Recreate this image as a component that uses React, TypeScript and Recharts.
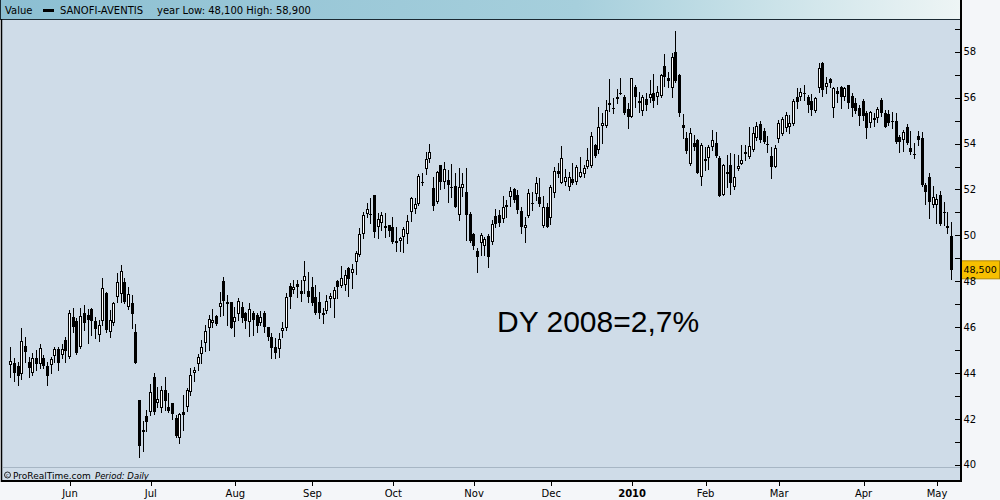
import React from "react";
import { ComposedChart, Bar, XAxis, YAxis, ReferenceLine } from "recharts";

// SANOFI-AVENTIS daily candles, 8 May 2009 .. 7 May 2010 (one entry per trading day)
const opens = [
  44.35, 44.46, 44.32, 43.95, 45.19, 44.5, 44.02, 44.65, 44.4, 44.65,
  44.32, 44.34, 44.73, 45.04, 44.79, 45.45, 44.72, 46.43, 46.27, 45.16,
  46.61, 46.55, 46.78, 46.27, 45.66, 46.25, 47.48, 45.81, 46.17, 47.3,
  47.44, 47.96, 46.87, 47.04, 45.78, 42.83, 41.48, 42.13, 42.29, 43.82,
  42.72, 42.47, 43.27, 42.54, 42.69, 42.03, 41.16, 42.29, 42.51, 43.2,
  44.02, 44.38, 44.82, 45.3, 45.98, 46.2, 46.49, 46.87, 48.02, 47.1,
  47.1, 46.21, 46.56, 46.87, 46.64, 46.24, 46.64, 46.53, 46.2, 46.61,
  46.03, 45.59, 45.12, 45.04, 45.84, 45.98, 47.8, 47.62, 47.88, 47.56,
  48.03, 47.56, 47.74, 47.3, 47.08, 46.52, 46.72, 47.21, 47.21, 48.01,
  47.81, 47.84, 48.59, 48.35, 48.85, 49.14, 50.04, 50.92, 50.95, 51.76,
  50.38, 50.52, 50.31, 50.45, 50.38, 49.75, 49.77, 49.91, 50.04, 51.03,
  51.15, 51.37, 52.34, 52.88, 53.33, 52.05, 51.47, 53.05, 52.34, 52.41,
  52.1, 52.15, 50.89, 52.05, 51.87, 50.92, 50.06, 49.32, 49.68, 49.54,
  49.97, 49.72, 50.84, 50.89, 50.7, 51.32, 51.65, 52.02, 51.76, 51.06,
  50.31, 50.84, 51.43, 51.8, 51.68, 50.42, 51.25, 50.74, 51.83, 52.82,
  52.3, 52.34, 52.12, 52.44, 52.31, 52.56, 52.67, 52.96, 53.03, 53.94,
  53.74, 54.78, 54.78, 55.75, 55.54, 56.01, 56.22, 56.01, 55.49, 55.17,
  56.48, 55.86, 55.43, 55.92, 55.97, 56.18, 56.04, 56.08, 57.39, 56.85,
  56.4, 57.99, 56.98, 54.8, 54.22, 53.09, 54.03, 54.15, 52.55, 53.23,
  53.35, 53.86, 54.03, 53.35, 51.78, 52.77, 53.06, 52.09, 52.87, 53.13,
  53.6, 53.42, 53.71, 54.25, 54.83, 54.56, 53.97, 53.47, 52.99, 54.18,
  54.4, 54.66, 54.7, 54.85, 56.03, 56.04, 56.2, 56.04, 55.85, 55.42,
  56.4, 57.49, 56.48, 56.81, 55.56, 56.29, 56.45, 56.04, 56.55, 56.07,
  55.75, 55.56, 55.85, 55.32, 54.88, 55.01, 55.1, 55.9, 55.32, 55.29,
  55.0, 55.0, 54.3, 54.15, 54.73, 53.79, 53.55, 54.31, 54.23, 52.19,
  52.53, 51.32, 51.32, 51.76, 51.03, 50.3, 49.97,
];

const highs = [
  45.15, 44.65, 44.5, 45.96, 45.59, 44.72, 44.87, 45.01, 45.26, 44.8,
  44.5, 44.72, 45.16, 45.16, 45.26, 45.59, 46.75, 46.83, 46.39, 46.83,
  46.97, 46.8, 46.83, 46.46, 46.32, 48.13, 47.55, 46.75, 47.12, 48.35,
  48.71, 48.13, 47.77, 47.41, 46.13, 42.85, 41.9, 42.4, 43.53, 44.0,
  43.41, 43.44, 43.82, 43.12, 42.69, 42.18, 42.25, 43.05, 43.34, 44.21,
  44.28, 44.82, 45.45, 46.1, 46.53, 46.78, 46.52, 47.55, 48.2, 47.4,
  47.1, 46.9, 47.26, 47.09, 46.68, 47.04, 46.72, 46.61, 46.72, 46.72,
  46.03, 45.74, 45.52, 45.74, 46.24, 47.48, 47.94, 48.06, 48.06, 48.06,
  48.88, 48.42, 48.2, 47.84, 47.52, 46.82, 47.4, 47.48, 47.77, 48.06,
  48.67, 48.49, 48.61, 48.74, 49.33, 50.31, 51.03, 51.4, 51.61, 51.76,
  50.96, 51.03, 50.96, 50.45, 50.79, 50.35, 49.94, 50.35, 50.89, 51.68,
  51.61, 52.67, 52.7, 53.65, 53.98, 52.56, 52.82, 53.05, 53.18, 52.85,
  53.11, 52.7, 52.92, 52.7, 52.92, 51.0, 50.1, 49.44, 50.12, 49.94,
  50.06, 50.67, 51.13, 51.1, 51.71, 51.54, 52.09, 52.05, 51.98, 51.22,
  50.81, 52.02, 51.9, 52.53, 52.49, 51.71, 51.4, 52.2, 52.99, 53.14,
  53.89, 52.89, 52.77, 53.14, 53.07, 53.4, 53.07, 53.79, 54.52, 53.98,
  55.58, 55.31, 55.9, 56.8, 55.97, 56.36, 56.84, 56.11, 55.75, 56.84,
  56.55, 56.26, 56.11, 56.21, 56.76, 57.05, 56.5, 57.05, 57.9, 57.13,
  57.93, 58.9, 57.05, 55.28, 54.51, 54.66, 54.37, 54.18, 54.03, 53.86,
  53.93, 54.59, 54.51, 53.45, 53.13, 53.5, 53.57, 53.54, 53.5, 53.93,
  53.93, 54.7, 54.73, 54.95, 54.98, 54.66, 54.32, 53.86, 53.93, 55.02,
  55.17, 55.38, 55.24, 55.92, 56.4, 56.4, 56.55, 56.11, 56.14, 56.04,
  57.49, 57.57, 56.91, 56.84, 56.48, 56.48, 56.52, 56.48, 56.55, 56.19,
  56.0, 55.68, 55.94, 55.42, 55.42, 55.32, 55.6, 55.97, 55.46, 55.46,
  55.36, 55.32, 54.37, 54.59, 54.84, 54.55, 54.01, 54.55, 54.49, 52.27,
  52.7, 52.15, 51.79, 51.93, 51.47, 51.03, 50.6,
];

const lows = [
  43.85, 43.66, 43.5, 43.75, 44.5, 43.85, 43.92, 44.14, 44.21, 44.21,
  43.5, 43.99, 44.5, 44.14, 44.65, 44.5, 44.65, 45.81, 44.84, 45.08,
  45.88, 45.3, 45.66, 45.52, 45.4, 46.1, 45.81, 45.59, 46.1, 47.12,
  47.12, 47.04, 46.8, 45.96, 44.46, 40.35, 40.6, 41.5, 42.18, 42.22,
  42.54, 42.32, 42.4, 42.32, 42.0, 41.23, 40.94, 41.53, 42.37, 43.05,
  43.67, 44.14, 44.46, 44.98, 45.01, 46.03, 46.1, 46.5, 46.53, 46.1,
  45.95, 45.63, 46.32, 46.24, 45.95, 45.62, 45.66, 45.81, 46.1, 45.81,
  45.45, 44.68, 44.68, 44.72, 45.56, 45.88, 46.82, 47.48, 47.3, 47.16,
  47.48, 47.11, 46.97, 46.57, 46.39, 46.17, 46.63, 46.9, 46.46, 47.26,
  47.77, 47.62, 47.37, 47.7, 48.32, 49.1, 49.87, 50.81, 50.55, 49.94,
  49.87, 50.23, 49.94, 49.97, 49.65, 49.33, 49.33, 49.29, 49.65, 50.64,
  50.99, 51.32, 52.19, 52.67, 53.21, 51.1, 51.42, 52.02, 52.05, 51.47,
  51.69, 51.22, 50.67, 51.71, 49.8, 49.7, 49.4, 48.4, 49.14, 49.14,
  48.63, 49.62, 50.38, 50.41, 50.6, 50.78, 51.28, 51.47, 50.99, 50.09,
  49.73, 50.81, 51.1, 51.54, 51.3, 50.35, 50.38, 50.49, 51.68, 52.56,
  52.27, 52.19, 51.97, 52.24, 52.24, 52.53, 52.56, 52.92, 52.99, 53.43,
  53.6, 54.04, 54.73, 55.43, 55.34, 55.78, 56.16, 55.29, 54.66, 55.14,
  55.6, 55.38, 55.24, 55.46, 55.82, 55.57, 55.72, 56.04, 56.5, 56.47,
  56.04, 56.7, 55.2, 54.22, 53.6, 53.06, 53.74, 52.7, 52.19, 52.84,
  52.87, 53.71, 53.42, 51.71, 51.75, 52.12, 51.8, 52.04, 52.84, 53.1,
  53.28, 53.39, 53.68, 54.15, 54.08, 54.03, 53.64, 52.52, 52.96, 54.08,
  54.37, 54.56, 54.44, 54.8, 55.53, 55.9, 55.9, 55.39, 55.24, 55.36,
  56.26, 56.08, 56.19, 56.48, 55.17, 55.82, 55.56, 55.9, 55.56, 55.2,
  55.31, 54.81, 55.02, 54.26, 54.73, 54.78, 54.95, 55.21, 54.73, 54.81,
  54.66, 54.01, 53.62, 53.68, 53.98, 53.53, 53.38, 53.94, 52.15, 51.35,
  50.77, 51.25, 50.55, 50.45, 50.45, 50.12, 48.1,
];

const closes = [
  44.55, 44.02, 43.88, 45.39, 44.91, 44.24, 44.65, 44.4, 45.11, 44.32,
  43.89, 44.62, 45.07, 44.43, 45.04, 44.98, 46.61, 46.03, 44.87, 46.48,
  46.17, 46.3, 46.25, 45.93, 46.1, 47.7, 45.88, 46.32, 47.04, 47.96,
  48.45, 47.09, 47.44, 46.59, 44.46, 40.84, 41.52, 41.89, 43.17, 42.32,
  42.86, 43.27, 42.8, 42.37, 42.22, 41.28, 42.21, 42.18, 43.27, 43.92,
  44.14, 44.69, 45.13, 45.84, 46.35, 46.32, 46.13, 47.04, 47.16, 47.0,
  45.98, 46.46, 47.14, 46.39, 46.29, 46.78, 46.32, 46.07, 46.43, 46.03,
  45.59, 45.08, 44.89, 45.47, 45.95, 47.3, 47.33, 47.77, 47.77, 47.45,
  48.23, 47.33, 47.07, 46.6, 46.6, 46.63, 47.16, 47.36, 47.62, 47.77,
  48.13, 48.27, 48.08, 48.53, 49.22, 50.06, 50.89, 51.15, 50.92, 50.16,
  50.71, 50.89, 50.42, 50.19, 49.73, 49.76, 49.87, 50.28, 50.63, 51.61,
  51.37, 52.59, 52.32, 53.34, 53.62, 51.3, 52.75, 52.31, 52.88, 52.18,
  52.08, 51.25, 52.1, 52.24, 50.89, 49.77, 49.55, 49.07, 50.01, 49.83,
  49.07, 50.49, 50.49, 50.55, 51.22, 51.22, 51.93, 51.54, 51.1, 50.35,
  50.45, 51.83, 51.41, 52.27, 51.35, 51.25, 50.38, 52.12, 52.82, 52.67,
  53.36, 52.53, 52.53, 52.27, 52.99, 52.74, 52.92, 53.28, 54.33, 53.47,
  54.73, 54.88, 55.46, 55.68, 55.53, 55.94, 56.2, 55.31, 55.14, 56.84,
  56.04, 55.75, 56.01, 55.7, 56.15, 55.86, 56.23, 56.98, 56.91, 56.73,
  57.78, 56.73, 55.34, 54.69, 53.67, 54.48, 53.86, 52.73, 53.93, 53.32,
  53.86, 54.15, 53.45, 51.72, 53.06, 52.67, 52.26, 52.55, 53.03, 53.28,
  53.61, 53.9, 54.48, 54.77, 54.15, 54.08, 53.96, 52.96, 53.79, 54.88,
  55.05, 55.24, 54.88, 55.86, 55.82, 56.23, 56.19, 55.68, 55.46, 56.0,
  57.28, 56.33, 56.62, 56.62, 56.4, 56.17, 56.01, 56.4, 55.78, 55.56,
  55.42, 55.21, 55.21, 54.69, 55.36, 55.13, 55.5, 55.32, 54.73, 54.91,
  54.99, 54.05, 54.08, 54.49, 54.01, 53.65, 53.54, 54.14, 52.19, 51.9,
  51.47, 51.69, 51.57, 50.5, 50.96, 50.41, 48.5,
];

// trading-day index where each month begins
const monthLabels = ["Jun", "Jul", "Aug", "Sep", "Oct", "Nov", "Dec", "2010", "Feb", "Mar", "Apr", "May"];
const monthStarts = [16, 38, 61, 82, 104, 126, 147, 169, 189, 209, 232, 252];
const priceTicks = [40, 41, 42, 43, 44, 45, 46, 47, 48, 49, 50, 51, 52, 53, 54, 55, 56, 57, 58, 59];

const rows = opens.map((o, i) => ({
  i,
  open: o,
  high: highs[i],
  low: lows[i],
  close: closes[i],
}));
const lastClose = closes[closes.length - 1];

const UI_FONT = '"DejaVu Sans", Verdana, sans-serif';

function Candle(props: any) {
  const { x, y, width, height, payload } = props;
  if (!payload || height == null || isNaN(y)) return null;
  const { open, high, low, close } = payload;
  const span = high - low || 1;
  const yAt = (v: number) => y + ((high - v) / span) * height;
  const cx = Math.round(x + width / 2 - 0.5) + 0.5;
  const yH = Math.round(yAt(high));
  const yL = Math.round(yAt(low));
  const yO = Math.round(yAt(open));
  const yC = Math.round(yAt(close));
  let top = Math.min(yO, yC);
  let bot = Math.max(yO, yC);
  const up = close > open;

  if (up) {
    if (bot - top < 2) bot = top + 2;
    return (
      <g>
        <line x1={cx} x2={cx} y1={yH} y2={yL + 1} stroke="#000" strokeWidth={1} />
        <rect x={cx - 1} y={top + 0.5} width={2} height={bot - top - 1} fill="#fff" stroke="#000" strokeWidth={1} />
      </g>
    );
  }
  if (bot - top < 1) bot = top + 1;
  return (
    <g>
      <line x1={cx} x2={cx} y1={yH} y2={yL + 1} stroke="#000" strokeWidth={1} />
      <rect x={cx - 1.5} y={top} width={3} height={bot - top} fill="#000" />
    </g>
  );
}

function MonthTick({ x, y, payload }: any) {
  const label = monthLabels[monthStarts.indexOf(payload.value)];
  const px = Math.round(x) + 0.5;
  return (
    <g>
      <line x1={px} x2={px} y1={y + 1} y2={y + 5} stroke="#000" />
      <text
        x={x}
        y={y + 16}
        textAnchor="middle"
        fontSize={10}
        fontFamily={UI_FONT}
        fontWeight={label === "2010" ? "bold" : "normal"}
        fill="#000"
      >
        {label}
      </text>
    </g>
  );
}

function PriceTick({ x, y, payload }: any) {
  const py = Math.round(y) + 0.5;
  const v = payload.value;
  return (
    <g>
      <line x1={x - 6} x2={x} y1={py} y2={py} stroke="#000" />
      {v % 2 === 0 && (
        <text x={x + 2.5} y={y + 3.5} fontSize={10} fontFamily={UI_FONT} fill="#000">
          {v}
        </text>
      )}
    </g>
  );
}

function PriceFlag(props: any) {
  const vb = props.viewBox || {};
  const right = vb.x + vb.width;
  const cy = vb.y;
  return (
    <g>
      <rect x={right + 0.5} y={cy - 9} width={38} height={18} fill="#f7bf00" stroke="#b58a00" strokeWidth={1} />
      <text x={right + 2.5} y={cy + 3.5} fontSize={9.5} fontFamily={UI_FONT} fill="#000">
        {lastClose.toFixed(3).replace(".", ",")}
      </text>
    </g>
  );
}

export default function App() {
  return (
    <div style={{ position: "absolute", left: 0, top: 0, width: 1000, height: 500, overflow: "hidden" }}>
      <svg width={1000} height={500} style={{ position: "absolute", left: 0, top: 0 }}>
        <rect x={0} y={0} width={1000} height={500} fill="#f4f6f9" />
        <rect x={2} y={19} width={959} height={462} fill="#cfdce8" />
        <line x1={3} x2={960} y1={467.5} y2={467.5} stroke="#a7b6c4" strokeWidth={1} />
      </svg>

      <div style={{ position: "absolute", left: 0, top: 0 }}>
        <ComposedChart width={1000} height={500} data={rows} margin={{ top: 20, right: 0, bottom: 0, left: 3 }}>
          <XAxis
            type="number"
            dataKey="i"
            domain={[-2.232, 258.52]}
            allowDataOverflow
            ticks={monthStarts}
            interval={0}
            height={19}
            tickSize={0}
            tickMargin={0}
            axisLine={false}
            tickLine={false}
            tick={<MonthTick />}
          />
          <YAxis
            orientation="right"
            type="number"
            domain={[39.302, 59.381]}
            allowDataOverflow
            ticks={priceTicks}
            interval={0}
            width={39}
            tickSize={0}
            tickMargin={0}
            axisLine={false}
            tickLine={false}
            tick={<PriceTick />}
          />
          <Bar
            dataKey={(d: any) => [d.low, d.high]}
            barSize={3}
            shape={<Candle />}
            isAnimationActive={false}
          />
          <ReferenceLine y={lastClose} stroke="none" ifOverflow="visible" label={<PriceFlag />} />
        </ComposedChart>
      </div>

      <svg width={1000} height={500} style={{ position: "absolute", left: 0, top: 0, pointerEvents: "none" }}>
        <defs>
          <linearGradient id="hdr" x1="0" x2="1" y1="0" y2="0">
            <stop offset="0" stopColor="#8cbfd2" />
            <stop offset="0.6" stopColor="#a6cfdc" />
            <stop offset="1" stopColor="#eef5f5" />
          </linearGradient>
        </defs>
        <rect x={0} y={0} width={961} height={19} fill="url(#hdr)" />
        <line x1={0} x2={961} y1={19.5} y2={19.5} stroke="#1b2a33" strokeWidth={1} />
        <line x1={0.5} x2={0.5} y1={0} y2={20} stroke="#1b2a33" strokeWidth={1} />
        <text x={5} y={13.5} fontSize={10} fontFamily={UI_FONT} fill="#000">Value</text>
        <rect x={43} y={9} width={11} height={3} fill="#000" />
        <text x={60} y={13.5} fontSize={10} fontFamily={UI_FONT} fill="#000">SANOFI-AVENTIS</text>
        <text x={157} y={13.5} fontSize={10} fontFamily={UI_FONT} fill="#000">year Low: 48,100 High: 58,900</text>

        {/* frame */}
        <line x1={1.5} x2={1.5} y1={19} y2={482} stroke="#000" strokeWidth={1.5} />
        <line x1={961} x2={961} y1={0} y2={482} stroke="#000" strokeWidth={2} />
        <line x1={1} x2={962} y1={481} y2={481} stroke="#000" strokeWidth={2} />

        {/* footer */}
        <circle cx={7.5} cy={475} r={3} fill="none" stroke="#000" strokeWidth={0.8} />
        <text x={6} y={477} fontSize={5} fontFamily={UI_FONT} fill="#000">c</text>
        <text x={13} y={478.5} fontSize={9} fontFamily={UI_FONT} fill="#000">ProRealTime.com</text>
        <text x={95} y={478.5} fontSize={8.5} fontStyle="italic" fontFamily={UI_FONT} fill="#000">Period: Daily</text>

        {/* annotation */}
        <text x={497} y={332} fontSize={30} fontFamily='"Liberation Sans", Arial, sans-serif' fill="#000">
          DY 2008=2,7%
        </text>
      </svg>
    </div>
  );
}
